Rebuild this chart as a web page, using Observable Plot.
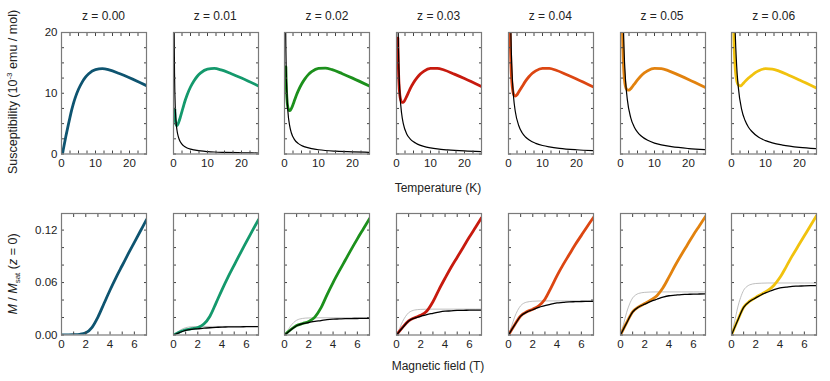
<!DOCTYPE html>
<html><head><meta charset="utf-8">
<script src="https://cdn.jsdelivr.net/npm/d3@7"></script>
<script src="https://cdn.jsdelivr.net/npm/@observablehq/plot@0.6"></script>
<style>
body{margin:0;background:#fff;font-family:"Liberation Sans",Arial,sans-serif;}
#chart{position:relative;width:830px;height:381px;overflow:hidden;background:#fff;}
#chart svg{position:absolute;}
.lbl{position:absolute;font-size:12px;color:#222;white-space:nowrap;line-height:1;}
.rot{transform:translate(-50%,-50%) rotate(-90deg);font-size:12.5px;}
.ctr{transform:translate(-50%,-50%);}
sup,sub{font-size:8px;line-height:0;}
</style></head><body><div id="chart"></div>
<script>
// ---------- data ----------
const zLabels = ["z = 0.00","z = 0.01","z = 0.02","z = 0.03","z = 0.04","z = 0.05","z = 0.06"];
const colors = ["#0e5470","#14996c","#1c901c","#c71a0e","#dc4612","#e2820e","#f1c20e"];

// top row: susceptibility (10^-3 emu/mol) vs temperature (K)
const tempGrid = [0.3,0.4,0.5,0.7,1,1.3,1.6,2,2.5,3,3.5,4,5,6,7,8,10,12,14,17,20,25];
const chiZ000 = [0.05,0.35,0.65,1.25,2.1,2.95,3.75,4.8,6.05,7.25,8.3,9.2,10.65,11.75,12.6,13.2,13.9,14.05,13.85,13.25,12.55,11.25];
const chiZ001 = [null,7.4,5.84,4.94,4.67,4.91,5.33,6.04,7.01,8.02,8.93,9.73,11.03,12.02,12.8,13.35,13.97,14.08,13.85,13.22,12.51,11.2];
const chiZ002 = [null,14.34,11.83,9.22,7.64,7.18,7.15,7.47,8.13,8.92,9.68,10.35,11.48,12.36,13.06,13.54,14.08,14.14,13.88,13.22,12.49,11.17];
const chiZ003 = [null,19.09,15.62,11.91,9.6,8.8,8.5,8.5,8.9,9.5,10.1,10.71,11.72,12.52,13.16,13.61,14.09,14.11,13.83,13.15,12.42,11.09];
const chiZ004 = [null,24.33,19.81,14.89,11.7,10.3,9.7,9.55,9.75,10.2,10.65,11.1,11.99,12.72,13.29,13.69,14.11,14.09,13.79,13.09,12.35,11.02];
const chiZ005 = [null,28.6,23.2,17.3,13.3,11.6,10.85,10.55,10.5,10.75,11.1,11.45,12.19,12.84,13.36,13.72,14.09,14.04,13.73,13.02,12.27,10.94];
const chiZ006 = [null,32.1,26.0,19.3,14.9,12.9,11.9,11.35,11.2,11.35,11.65,11.95,12.5,12.95,13.39,13.72,14.04,13.97,13.64,12.93,12.17,10.85];

// black Curie-tail curves
const curieGrid = [0.2,0.3,0.4,0.5,0.7,1,1.5,2,3,4,5,6,8,10,12,15,20,25];
const curieZ001 = [20,13.3,10,8,5.7,4,2.7,2,1.33,1,0.8,0.67,0.5,0.4,0.33,0.27,0.2,0.16];
const curieZ002 = [35,23.3,17.5,14,10,7,4.7,3.5,2.33,1.75,1.4,1.17,0.88,0.7,0.58,0.47,0.35,0.28];
const curieZ003 = [50,33,25,20,14.3,10,6.7,5,3.3,2.5,2,1.67,1.25,1,0.83,0.67,0.5,0.4];
const curieZ004 = [70,47,35,28,20,14,9.3,7,4.7,3.5,2.8,2.33,1.75,1.4,1.17,0.93,0.7,0.56];
const curieZ005 = [90,60,45,36,25.7,18,12,9,6,4.5,3.6,3,2.25,1.8,1.5,1.2,0.9,0.72];
const curieZ006 = [110,73,55,44,31.4,22,14.7,11,7.3,5.5,4.4,3.7,2.75,2.2,1.83,1.47,1.1,0.88];

// bottom row: M / Msat vs field (T)
const fieldGrid = [0,0.5,1,1.5,2,2.5,3,3.5,4,4.5,5,5.5,6,6.5,7];
const magZ000 = [0,0.0001,0.0003,0.0008,0.0025,0.0085,0.0205,0.036,0.0515,0.066,0.0795,0.093,0.106,0.119,0.132];
const magZ001 = [0,0.0035,0.006,0.0072,0.0085,0.0125,0.0215,0.0365,0.052,0.0665,0.080,0.0935,0.1065,0.1195,0.132];
const magZ002 = [0,0.006,0.0108,0.0132,0.0155,0.0205,0.031,0.046,0.060,0.073,0.0855,0.098,0.110,0.1215,0.133];
const magZ003 = [0,0.0088,0.0162,0.0198,0.0225,0.0275,0.038,0.052,0.065,0.0775,0.089,0.1005,0.112,0.123,0.134];
const magZ004 = [0,0.0115,0.0218,0.0265,0.0295,0.0335,0.041,0.054,0.068,0.0805,0.092,0.1035,0.114,0.1245,0.1345];
const magZ005 = [0,0.014,0.0265,0.0322,0.036,0.040,0.045,0.054,0.0665,0.0795,0.0915,0.103,0.1145,0.125,0.1356];
const magZ006 = [0,0.0166,0.0318,0.0387,0.043,0.047,0.051,0.057,0.066,0.078,0.0905,0.102,0.1135,0.125,0.1366];

// black impurity magnetization
const impZ001 = [0,0.0028,0.0053,0.0065,0.0071,0.0078,0.0083,0.0087,0.0091,0.0092,0.0094,0.0094,0.0095,0.0095,0.0095];
const impZ002 = [0,0.0055,0.0106,0.0129,0.0143,0.0156,0.0165,0.0175,0.0181,0.0184,0.0187,0.0188,0.0189,0.019,0.019];
const impZ003 = [0,0.0083,0.016,0.0194,0.0214,0.0234,0.0248,0.0262,0.0272,0.0276,0.0281,0.0282,0.0284,0.0285,0.0285];
const impZ004 = [0,0.0112,0.0216,0.0262,0.0289,0.0316,0.0335,0.0354,0.0368,0.0373,0.0379,0.0381,0.0383,0.0384,0.0385];
const impZ005 = [0,0.0136,0.0263,0.032,0.0353,0.0385,0.0409,0.0432,0.0449,0.0456,0.0463,0.0465,0.0468,0.0469,0.047];
const impZ006 = [0,0.0164,0.0316,0.0384,0.0424,0.0463,0.0492,0.052,0.054,0.0548,0.0557,0.0559,0.0562,0.0564,0.0565];

// grey free-spin curves
const freeGrid = [0,0.25,0.5,0.75,1,1.25,1.5,2,2.5,3,4,5,6,7];
const freeZ001 = [0,0.0025,0.0051,0.0071,0.0084,0.0091,0.0095,0.0097,0.0098,0.0098,0.0098,0.0098,0.0098,0.0098];
const freeZ002 = [0,0.0049,0.0102,0.0142,0.0169,0.0183,0.019,0.0195,0.0196,0.0197,0.0197,0.0197,0.0197,0.0197];
const freeZ003 = [0,0.0074,0.0154,0.0213,0.0255,0.0275,0.0286,0.0293,0.0295,0.0296,0.0296,0.0296,0.0296,0.0296];
const freeZ004 = [0,0.0098,0.0203,0.0281,0.0335,0.0363,0.0376,0.0386,0.0389,0.039,0.039,0.039,0.039,0.039];
const freeZ005 = [0,0.0123,0.0256,0.0355,0.0424,0.0458,0.0476,0.0488,0.0492,0.0493,0.0493,0.0493,0.0493,0.0493];
const freeZ006 = [0,0.0149,0.0309,0.0428,0.0512,0.0553,0.0574,0.0589,0.0593,0.0595,0.0595,0.0595,0.0595,0.0595];

// axis ticks
const tempTicks = [0,10,20];
const tempMinor = [0,2.5,5,7.5,10,12.5,15,17.5,20,22.5,25];
const chiTicks = [0,10,20];
const chiMinor = [0,2.5,5,7.5,10,12.5,15,17.5,20];
const fieldTicks = [0,2,4,6];
const fieldMinor = [0,1,2,3,4,5,6,7];
const magTicks = [0,0.06,0.12];
const magMinor = [0,0.02,0.04,0.06,0.08,0.1,0.12];

const chiColored = [chiZ000,chiZ001,chiZ002,chiZ003,chiZ004,chiZ005,chiZ006];
const chiCurie = [null,curieZ001,curieZ002,curieZ003,curieZ004,curieZ005,curieZ006];
const magColored = [magZ000,magZ001,magZ002,magZ003,magZ004,magZ005,magZ006];
const magImp = [null,impZ001,impZ002,impZ003,impZ004,impZ005,impZ006];
const magFree = [null,freeZ001,freeZ002,freeZ003,freeZ004,freeZ005,freeZ006];

// ---------- layout ----------
const chart = document.getElementById("chart");
const PW = 85, PH = 121.5;
const colLeft = i => 61 + i * 111.7;
const rowTop = [31.5, 212.5];
const ml = 34, mr = 10, mt = 6, mb = 22;

const pairs = (xs, ys) => xs.map((x, i) => [x, ys[i]]).filter(d => d[1] != null);

function axes(xt, xm, yt, ym, showY, fmtY) {
  return [
    Plot.axisX({anchor: "bottom", ticks: xt, tickSize: 0, tickPadding: 5, label: null, tickFormat: d => String(d)}),
    Plot.axisX({anchor: "bottom", ticks: xm, tickSize: -3, label: null, tickFormat: () => "", stroke: "#444"}),
    Plot.axisX({anchor: "top", ticks: xm, tickSize: -3, label: null, tickFormat: () => "", stroke: "#444"}),
    Plot.axisY({anchor: "left", ticks: yt, tickSize: 0, tickPadding: 4, label: null, tickFormat: showY ? fmtY : () => ""}),
    Plot.axisY({anchor: "left", ticks: ym, tickSize: -3, label: null, tickFormat: () => "", stroke: "#444"}),
    Plot.axisY({anchor: "right", ticks: ym, tickSize: -3, label: null, tickFormat: () => "", stroke: "#444"}),
    Plot.frame({stroke: "#7a7a7a", strokeWidth: 1.2})
  ];
}

function place(svg, left, top) {
  svg.style.left = left + "px";
  svg.style.top = top + "px";
  chart.appendChild(svg);
}

const style = {background: "transparent", overflow: "visible", fontFamily: "'Liberation Sans', Arial, sans-serif", fontSize: "11.5px", color: "#222"};

for (let i = 0; i < 7; i++) {
  const topMarks = [
    Plot.line(pairs(tempGrid, chiColored[i]), {stroke: colors[i], strokeWidth: 2.8, curve: "monotone-x", clip: true})
  ];
  if (chiCurie[i]) topMarks.push(Plot.line(pairs(curieGrid, chiCurie[i]), {stroke: "#000", strokeWidth: 1.2, curve: "monotone-x", clip: true}));
  const top = Plot.plot({
    width: PW + ml + mr, height: PH + mt + mb,
    marginLeft: ml, marginRight: mr, marginTop: mt, marginBottom: mb,
    x: {domain: [0, 25]}, y: {domain: [0, 20]},
    style,
    marks: [...topMarks, ...axes(tempTicks, tempMinor, chiTicks, chiMinor, i === 0, d => String(d))]
  });
  place(top, colLeft(i) - ml, rowTop[0] - mt);

  const botMarks = [];
  if (magFree[i]) botMarks.push(Plot.line(pairs(freeGrid, magFree[i]), {stroke: "#b8b8b8", strokeWidth: 0.9, curve: "monotone-x", clip: true}));
  botMarks.push(Plot.line(pairs(fieldGrid, magColored[i]), {stroke: colors[i], strokeWidth: 2.8, curve: "monotone-x", clip: true}));
  if (magImp[i]) botMarks.push(Plot.line(pairs(fieldGrid, magImp[i]), {stroke: "#000", strokeWidth: 1.3, curve: "monotone-x", clip: true}));
  const bot = Plot.plot({
    width: PW + ml + mr, height: PH + mt + mb,
    marginLeft: ml, marginRight: mr, marginTop: mt, marginBottom: mb,
    x: {domain: [0, 7]}, y: {domain: [0, 0.139]},
    style,
    marks: [...botMarks, ...axes(fieldTicks, fieldMinor, magTicks, magMinor, i === 0, d => d.toFixed(2))]
  });
  place(bot, colLeft(i) - ml, rowTop[1] - mt);

  const t = document.createElement("div");
  t.className = "lbl ctr";
  t.style.left = (colLeft(i) + PW / 2) + "px";
  t.style.top = "16px";
  t.textContent = zLabels[i];
  chart.appendChild(t);
}

function label(html, x, y, cls) {
  const d = document.createElement("div");
  d.className = "lbl " + cls;
  d.style.left = x + "px";
  d.style.top = y + "px";
  d.innerHTML = html;
  chart.appendChild(d);
}
label("Susceptibility (10<sup>-3</sup> emu / mol)", 13, 92, "rot");
label("<i>M</i> / <i>M</i><sub>sat</sub> (<i>z</i> = 0)", 13, 274, "rot");
label("Temperature (K)", 438, 188, "ctr");
label("Magnetic field (T)", 438, 366, "ctr");
</script></body></html>
